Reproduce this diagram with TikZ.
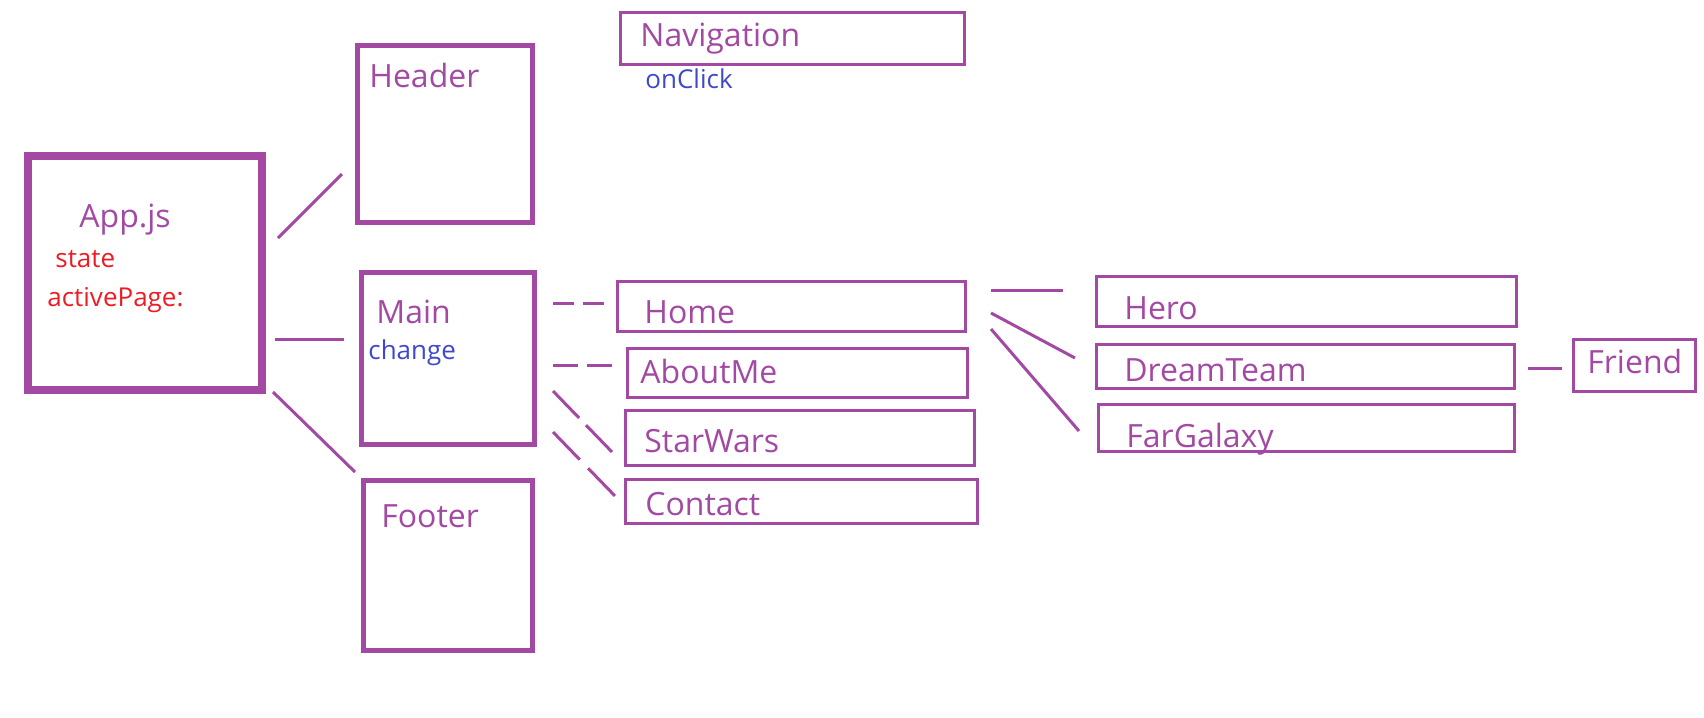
\documentclass[tikz,border=0pt]{standalone}
\usepackage{fontspec}
\setmainfont{Open Sans}
\definecolor{ppl}{RGB}{163,73,164}
\definecolor{rd}{RGB}{237,28,36}
\definecolor{bl}{RGB}{63,72,204}
\tikzset{
  bx/.style={draw=ppl, line width=1.75pt, rectangle, inner sep=0pt},
  bxmid/.style={bx, line width=2.5pt},
  bxthick/.style={bx, line width=4pt},
  lbl/.style={text=ppl, inner sep=0pt, anchor=base west, font=\fontsize{16pt}{19pt}\selectfont},
  sml/.style={inner sep=0pt, anchor=base west, font=\fontsize{13pt}{15pt}\selectfont},
  conn/.style={draw=ppl, line width=1.5pt},
}
\begin{document}
\begin{tikzpicture}[x=0.5pt,y=-0.5pt]
\useasboundingbox (0,0) rectangle (1704,718);
% boxes
\node[bxthick, minimum width=117pt, minimum height=117pt] (app) at (144.5,273) {};
\node[bxmid, minimum width=87.75pt, minimum height=88.75pt] (header) at (445,134) {};
\node[bxmid, minimum width=86.75pt, minimum height=86.25pt] (main) at (448,358.5) {};
\node[bxmid, minimum width=84.75pt, minimum height=85.25pt] (footer) at (448,565.5) {};
\node[bx, minimum width=172pt, minimum height=26pt] (nav) at (792.5,38.5) {};
\node[bx, minimum width=174pt, minimum height=25pt] (home) at (791.5,306.5) {};
\node[bx, minimum width=170pt, minimum height=24.5pt] (about) at (797.5,373) {};
\node[bx, minimum width=174.5pt, minimum height=27.5pt] (starwars) at (800,438) {};
\node[bx, minimum width=176pt, minimum height=22pt] (contact) at (801.5,501.5) {};
\node[bx, minimum width=210pt, minimum height=25pt] (hero) at (1306.5,301.5) {};
\node[bx, minimum width=209pt, minimum height=22pt] (dream) at (1305.5,366.5) {};
\node[bx, minimum width=208pt, minimum height=23.5pt] (far) at (1306.5,428) {};
\node[bx, minimum width=61pt, minimum height=26pt] (friend) at (1634.5,365.5) {};
% labels
\node[lbl] (tapp) at (79,227) {App.js};
\node[sml, text=rd] (tstate) at (55,267) {state};
\node[sml, text=rd] (tactive) at (47,306) {activePage:};
\node[lbl] (theader) at (369,87) {Header};
\node[lbl] (tmain) at (376,323) {Main};
\node[sml, text=bl] (tchange) at (368,359) {change};
\node[lbl] (tfooter) at (381,527) {Footer};
\node[lbl] (tnav) at (640,46) {Navigation};
\node[sml, text=bl] (tclick) at (645,88) {onClick};
\node[lbl] (thome) at (644,323) {Home};
\node[lbl] (tabout) at (640,383) {AboutMe};
\node[lbl] (tstar) at (644,452) {StarWars};
\node[lbl] (tcontact) at (645,515) {Contact};
\node[lbl] (thero) at (1124,319) {Hero};
\node[lbl] (tdream) at (1124,381) {DreamTeam};
\node[lbl] (tfar) at (1126,447) {FarGalaxy};
\node[lbl] (tfriend) at (1587,373) {Friend};
% connector end points
\coordinate (a1) at (278,238); \coordinate (h1) at (342,174);
\coordinate (a2) at (275,339); \coordinate (m1) at (344,339);
\coordinate (a3) at (273,392); \coordinate (f1) at (355,472);
\coordinate (m2) at (553,303); \coordinate (ho1) at (604,303);
\coordinate (m3) at (553,365); \coordinate (ab1) at (614,365);
\coordinate (m4) at (553,391); \coordinate (sw1) at (612,452);
\coordinate (m5) at (553,432); \coordinate (ct1) at (615,496);
\coordinate (ho2) at (991,290); \coordinate (he1) at (1063,290);
\coordinate (ho3) at (991,313); \coordinate (dt1) at (1075,358);
\coordinate (ho4) at (991,329); \coordinate (fg1) at (1079,431);
\coordinate (dt2) at (1528,368); \coordinate (fr1) at (1562,368);
% connectors
\draw[conn] (a1) -- (h1);
\draw[conn] (a2) -- (m1);
\draw[conn] (a3) -- (f1);
\draw[conn, dash pattern=on 10.5pt off 4.5pt] (m2) -- (ho1);
\draw[conn, dash pattern=on 12.5pt off 4.5pt] (m3) -- (ab1);
\draw[conn, dash pattern=on 18.75pt off 5pt] (m4) -- (sw1);
\draw[conn, dash pattern=on 19.25pt off 6pt] (m5) -- (ct1);
\draw[conn] (ho2) -- (he1);
\draw[conn] (ho3) -- (dt1);
\draw[conn] (ho4) -- (fg1);
\draw[conn] (dt2) -- (fr1);
\end{tikzpicture}
\end{document}
